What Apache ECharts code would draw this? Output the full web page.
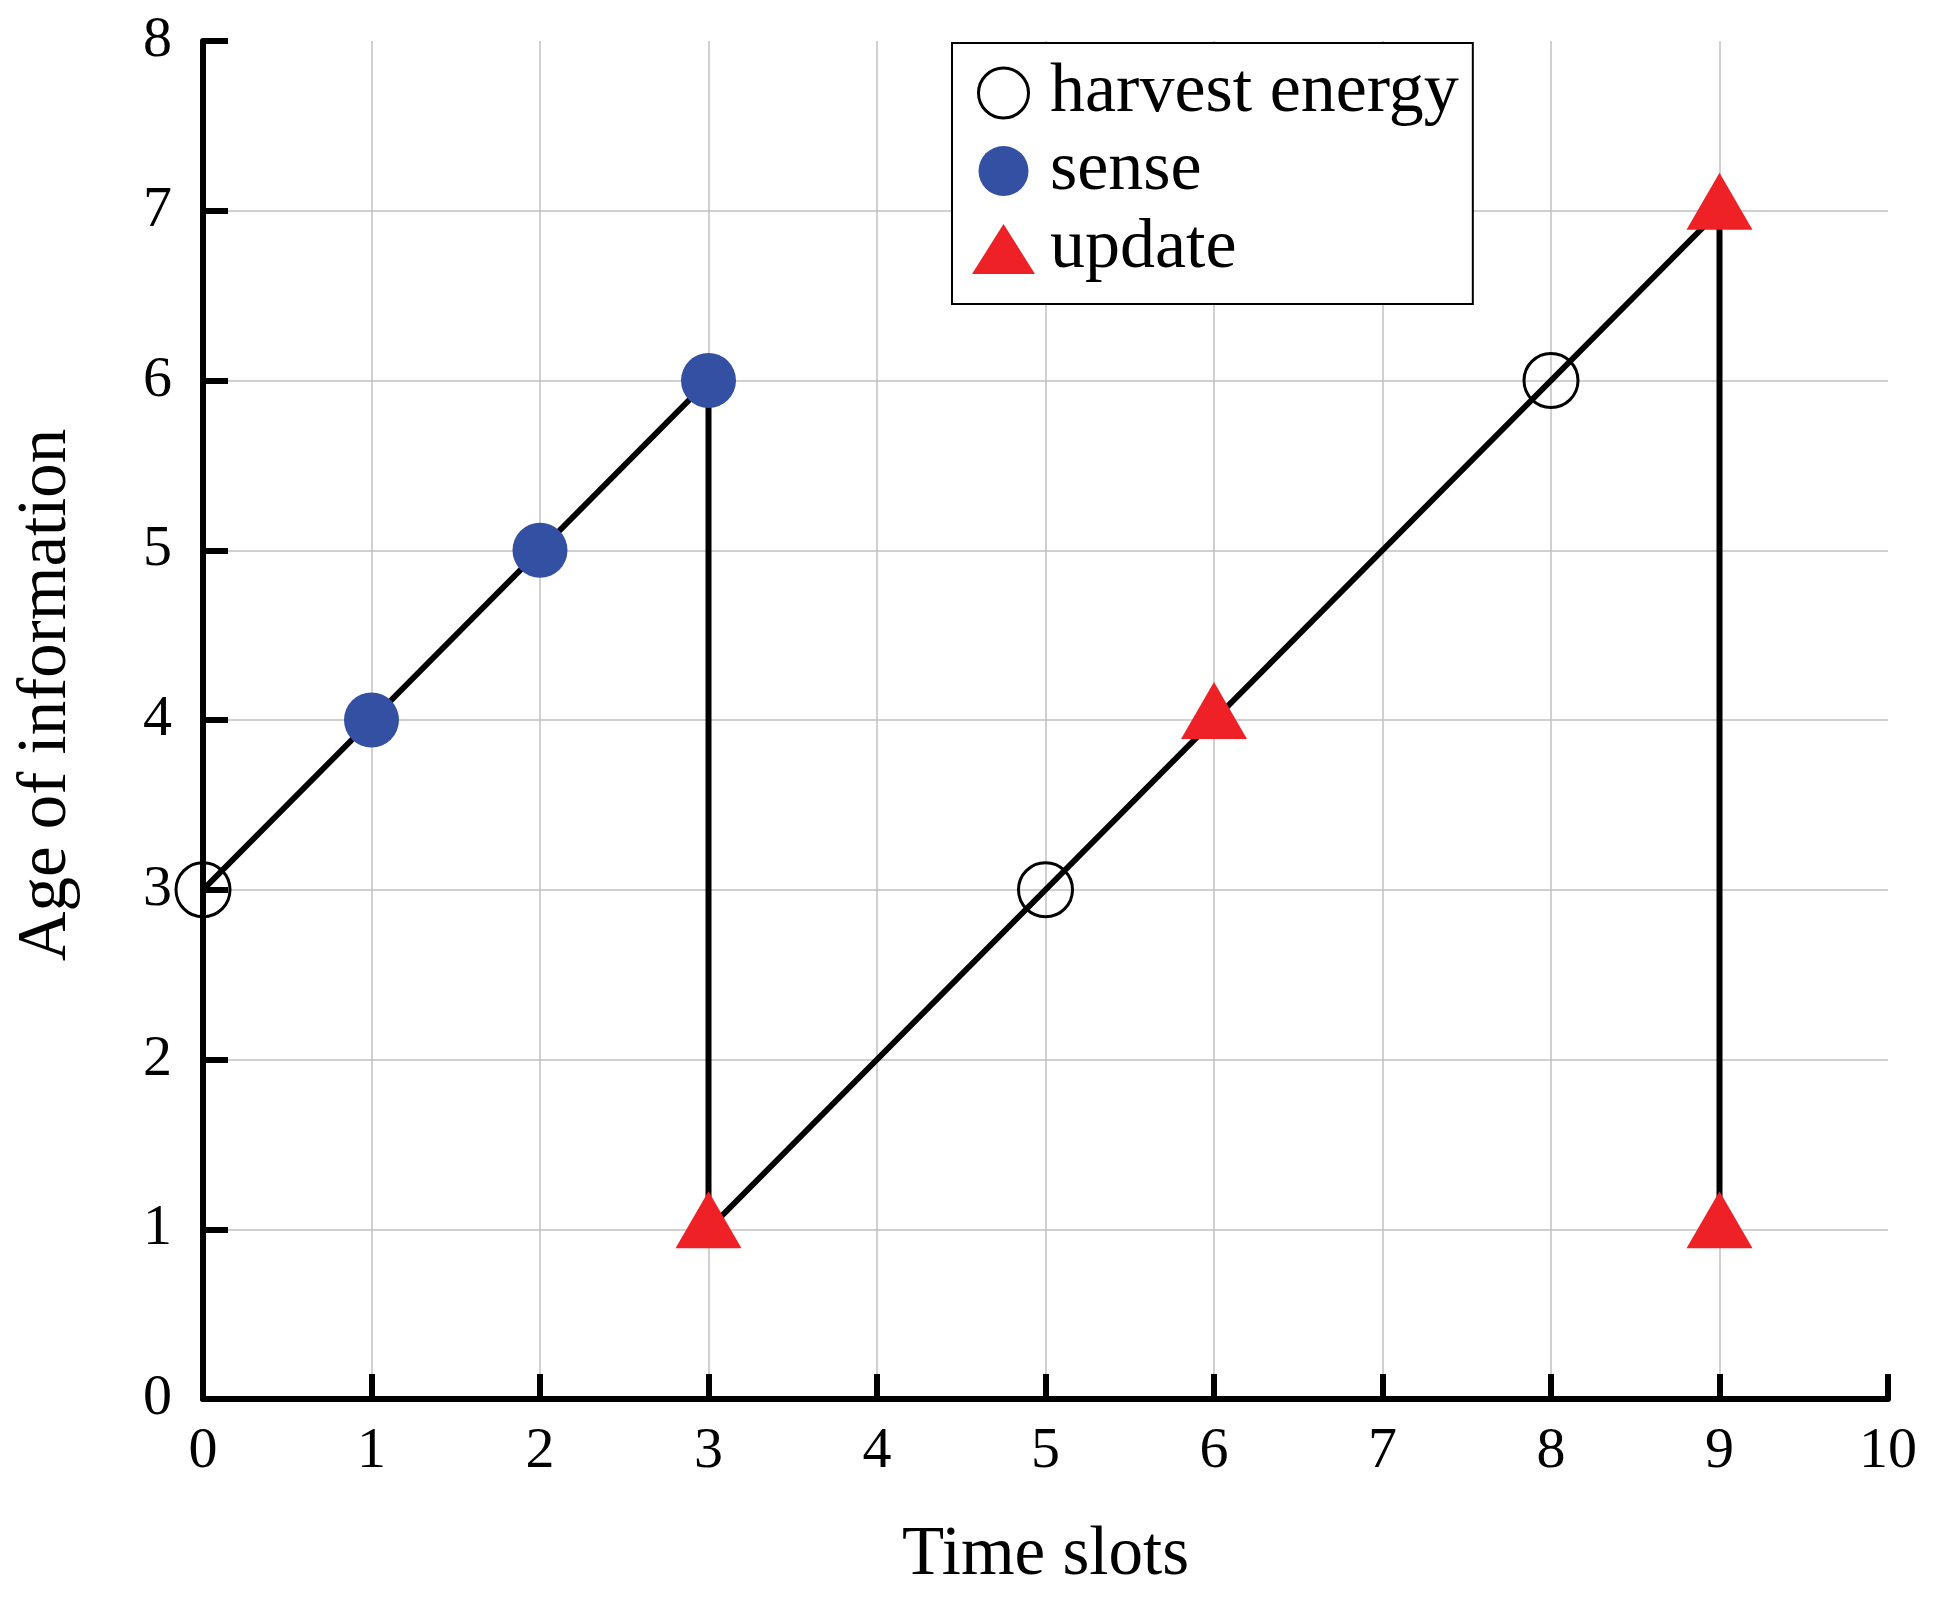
<!DOCTYPE html>
<html>
<head>
<meta charset="utf-8">
<script src="https://cdn.jsdelivr.net/npm/echarts@6/dist/echarts.min.js"></script>
<style>
html,body{margin:0;padding:0;background:#fff;}
#chart{width:1948px;height:1610px;}
</style>
</head>
<body>
<div id="chart"></div>
<script>
// Age-of-information trajectory (line through the events)
const pathX = [0, 3, 3, 9, 9];
const pathY = [3, 6, 1, 7, 1];
// Event markers
const harvestX = [0, 5, 8];
const harvestY = [3, 3, 6];
const senseX = [1, 2, 3];
const senseY = [4, 5, 6];
const updateX = [3, 6, 9, 9];
const updateY = [1, 4, 7, 1];
const xTicks = [0,1,2,3,4,5,6,7,8,9,10];
const yTicks = [0,1,2,3,4,5,6,7,8];
const seriesNames = ['harvest energy', 'sense', 'update'];

const zip = (xs, ys) => xs.map((x, i) => [x, ys[i]]);
const FONT = '"Liberation Serif", "Times New Roman", serif';
const BLUE = '#3350A2';
const RED = '#EE2226';

const chart = echarts.init(document.getElementById('chart'));
const axisCommon = {
  type: 'value',
  interval: 1,
  axisLine: { show: true, lineStyle: { color: '#000', width: 6 } },
  axisTick: { show: true, inside: true, length: 25, lineStyle: { color: '#000', width: 6 } },
  splitLine: { show: true, showMinLine: false, showMaxLine: false, lineStyle: { color: '#c0c0c0', width: 1.5 } },
  nameLocation: 'middle',
  nameGap: 122
};
chart.setOption({
  animation: false,
  backgroundColor: '#fff',
  grid: { left: 203, right: 60, top: 41, bottom: 211, containLabel: false },
  xAxis: Object.assign({}, axisCommon, {
    min: xTicks[0], max: xTicks[xTicks.length - 1],
    name: 'Time slots',
    nameTextStyle: { fontFamily: FONT, fontSize: 69, color: '#000' },
    axisLabel: { fontFamily: FONT, fontSize: 58, color: '#000', margin: 24 }
  }),
  yAxis: Object.assign({}, axisCommon, {
    min: yTicks[0], max: yTicks[yTicks.length - 1],
    name: 'Age of information',
    nameTextStyle: { fontFamily: FONT, fontSize: 69, color: '#000', padding: [0, 0, 0, 50] },
    axisLabel: { fontFamily: FONT, fontSize: 58, color: '#000', margin: 31 }
  }),
  legend: {
    orient: 'vertical',
    left: 952, top: 43,
    padding: [15, 14, 20, 20],
    itemGap: 8,
    itemWidth: 63, itemHeight: 50,
    backgroundColor: '#fff',
    borderColor: '#000', borderWidth: 2, borderRadius: 0,
    textStyle: { fontFamily: FONT, fontSize: 70, color: '#000', padding: [0, 0, 0, 10] },
    data: [
      { name: seriesNames[0], icon: 'circle', itemStyle: { color: 'transparent', borderColor: '#000', borderWidth: 3 } },
      { name: seriesNames[1], icon: 'circle', itemStyle: { color: BLUE, borderWidth: 0 } },
      { name: seriesNames[2], icon: 'triangle', itemStyle: { color: RED, borderWidth: 0 } }
    ]
  },
  series: [
    {
      name: 'path', type: 'line', data: zip(pathX, pathY),
      showSymbol: false, symbol: 'none',
      lineStyle: { color: '#000', width: 6 }, z: 2
    },
    {
      name: seriesNames[0], type: 'scatter', data: zip(harvestX, harvestY),
      symbol: 'circle', symbolSize: 54,
      itemStyle: { color: 'transparent', borderColor: '#000', borderWidth: 3, opacity: 1 }, z: 3
    },
    {
      name: seriesNames[1], type: 'scatter', data: zip(senseX, senseY),
      symbol: 'circle', symbolSize: 55,
      itemStyle: { color: BLUE, opacity: 1 }, z: 3
    },
    {
      name: seriesNames[2], type: 'scatter', data: zip(updateX, updateY),
      symbol: 'triangle', symbolSize: [66, 57], symbolOffset: [0, -9.5],
      itemStyle: { color: RED, opacity: 1 }, z: 3
    }
  ]
});
</script>
</body>
</html>
